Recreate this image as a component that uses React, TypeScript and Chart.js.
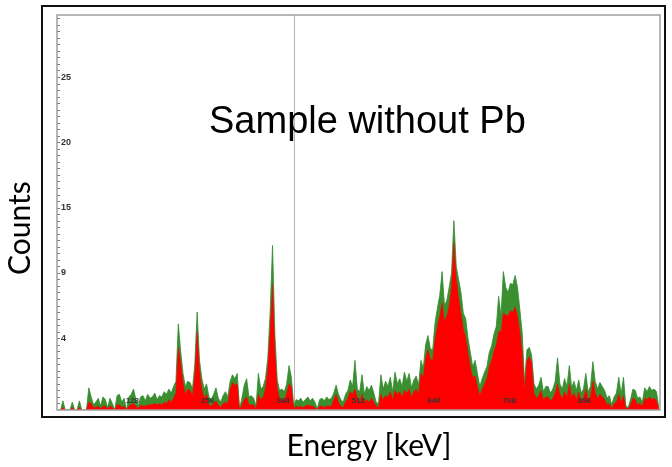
import React, { useEffect, useRef } from "react";
import { Chart, registerables } from "chart.js";

Chart.register(...registerables);

// Spectrum, binned: each bin covers BIN_WIDTH channels of 1024
const BIN_WIDTH = 4;
const CHANNEL_MAX = 1024;

// Upper (green) trace, counts per bin
const greenCounts = [
  0, 0, 0.7, 0, 0, 0, 0.6, 0, 0, 0.7, 0, 0, 0, 1.7, 1.0, 0.4,
  0.6, 0.9, 0.3, 1.0, 0.8, 0.2, 0.9, 0.5, 0, 1.1, 1.2, 0.6, 0.9, 0, 1.0, 1.2,
  1.6, 0.8, 0.3, 1.0, 1.1, 0.7, 1.2, 0.9, 1.0, 1.3, 0.8, 1.1, 1.0, 1.4, 1.2, 1.6,
  1.3, 1.8, 2.2, 6.6, 4.5, 2.8, 1.8, 2.2, 2.1, 1.6, 3.5, 7.5, 3.8, 2.4, 1.6, 2.0,
  1.0, 0.8, 1.2, 1.7, 0.9, 0.6, 1.1, 1.4, 1.0, 2.2, 2.7, 2.4, 2.8, 0.1, 0.9, 1.9,
  2.4, 1.0, 1.1, 0.9, 0.3, 2.8, 1.6, 1.8, 2.4, 4.0, 7.5, 12.6, 5.8, 2.3, 1.5, 1.6,
  1.4, 2.0, 3.4, 2.5, 0.3, 0.8, 0.7, 0.9, 0.6, 0.8, 1.0, 0.7, 0.9, 0.6, 0.1, 0.8,
  0.9, 0.7, 1.0, 0.8, 0.9, 1.3, 1.9, 1.2, 0.8, 0.6, 1.2, 1.5, 2.3, 1.8, 3.8, 1.6,
  1.4, 2.7, 1.2, 1.8, 1.5, 1.9, 1.3, 0.6, 0.5, 2.7, 1.6, 2.2, 1.8, 2.5, 1.4, 2.9,
  2.0, 2.4, 1.8, 2.9, 2.2, 2.8, 1.7, 2.3, 2.6, 1.9, 3.8, 3.2, 5.0, 5.7, 4.7, 4.6,
  6.7, 7.8, 8.8, 10.6, 8.0, 8.4, 9.4, 10.5, 14.5, 11.0, 10.0, 9.0, 7.4, 7.0, 5.5, 4.4,
  3.3, 3.8, 2.8, 1.8, 2.4, 2.9, 3.3, 4.4, 4.9, 5.8, 6.4, 8.7, 7.2, 10.6, 9.4, 9.0,
  9.7, 9.6, 10.3, 9.4, 7.7, 5.9, 2.1, 4.6, 4.8, 4.2, 2.0, 1.6, 1.9, 2.5, 1.4, 1.8,
  1.8, 1.3, 1.6, 2.2, 4.0, 2.0, 1.6, 2.4, 1.8, 3.4, 1.7, 2.2, 1.5, 2.3, 1.3, 1.6,
  2.8, 1.4, 1.8, 3.7, 2.2, 1.6, 2.1, 1.8, 1.5, 0.9, 1.1, 0.4, 1.0, 1.3, 2.5, 1.2,
  2.5, 0.3, 0.2, 0.8, 1.6, 1.5, 0.9, 1.0, 0.6, 1.7, 1.4, 1.8, 1.5, 1.6, 1.4, 0.2,
];

// Lower (red) trace, counts per bin
const redCounts = [
  0, 0, 0.2, 0, 0, 0, 0.2, 0, 0, 0.2, 0, 0, 0, 0.6, 0.5, 0.2,
  0.2, 0.3, 0.1, 0.3, 0.3, 0.1, 0.3, 0.2, 0, 0.4, 0.4, 0.2, 0.3, 0, 0.3, 0.4,
  0.5, 0.3, 0.1, 0.4, 0.3, 0.3, 0.4, 0.4, 0.4, 0.5, 0.4, 0.5, 0.4, 0.6, 0.5, 0.8,
  0.6, 0.9, 1.3, 4.8, 3.6, 2.1, 1.2, 1.6, 1.5, 1.1, 2.6, 6.0, 3.0, 1.6, 0.9, 1.2,
  0.4, 0.3, 0.5, 0.7, 0.4, 0.2, 0.5, 0.6, 0.5, 1.6, 2.1, 1.9, 2.0, 0, 0.4, 0.8,
  1.0, 0.4, 0.4, 0.4, 0.1, 1.2, 0.8, 1.0, 1.6, 3.2, 6.0, 9.6, 4.5, 1.6, 0.9, 0.8,
  0.7, 1.3, 2.0, 1.8, 0.1, 0.3, 0.2, 0.3, 0.2, 0.3, 0.4, 0.3, 0.3, 0.2, 0, 0.3,
  0.3, 0.2, 0.3, 0.3, 0.3, 0.8, 1.2, 0.6, 0.3, 0.2, 0.6, 0.9, 1.4, 1.2, 1.6, 1.0,
  0.6, 1.2, 0.6, 0.8, 0.6, 0.9, 0.6, 0.3, 0.2, 1.2, 0.8, 1.1, 1.0, 1.4, 0.8, 1.5,
  1.2, 1.4, 1.0, 1.5, 1.3, 1.6, 1.0, 1.4, 1.6, 1.2, 2.8, 2.5, 4.0, 4.6, 3.9, 3.8,
  5.4, 6.4, 7.2, 8.2, 6.8, 7.2, 8.0, 9.4, 12.8, 10.0, 8.6, 7.4, 6.2, 5.6, 4.4, 3.3,
  2.5, 2.6, 1.8, 1.1, 1.6, 2.0, 2.4, 3.3, 3.8, 4.5, 5.0, 6.0, 6.0, 7.4, 7.3, 7.2,
  7.6, 7.5, 7.9, 7.2, 6.0, 4.4, 1.4, 3.8, 4.1, 3.6, 1.3, 0.9, 1.1, 1.5, 0.8, 1.0,
  1.0, 0.7, 0.9, 1.3, 2.0, 1.2, 0.9, 1.4, 1.0, 2.0, 1.0, 1.3, 0.8, 1.4, 0.7, 0.9,
  1.6, 0.8, 1.0, 2.2, 1.3, 0.9, 1.2, 1.0, 0.8, 0.4, 0.5, 0.1, 0.5, 0.6, 1.2, 0.6,
  1.1, 0.1, 0.1, 0.4, 0.9, 0.8, 0.4, 0.5, 0.3, 0.9, 0.8, 1.0, 0.8, 0.9, 0.7, 0.1,
];

const xTickValues = [128, 256, 384, 512, 640, 768, 896];
const yTickValues = [5.5, 10.5, 15.5, 20.5, 25.5];
const yTickLabels = ["4", "9", "15", "20", "25"];
const Y_MAX = 30.25;
const Y_MINOR_STEP = 0.5;
const MARKER_CHANNEL = 402;

const toPoints = (arr: number[]) =>
  arr.map((y, i) => ({ x: i * BIN_WIDTH + BIN_WIDTH / 2, y }));

const framePlugin = {
  id: "spectrumFrame",
  beforeDatasetsDraw(chart: any) {
    const { ctx, chartArea: a, scales } = chart;
    const mx = scales.x.getPixelForValue(MARKER_CHANNEL);
    ctx.save();
    ctx.strokeStyle = "#b4b4b4";
    ctx.lineWidth = 1;
    ctx.beginPath();
    ctx.moveTo(Math.round(mx) + 0.5, a.top);
    ctx.lineTo(Math.round(mx) + 0.5, a.bottom);
    ctx.stroke();
    ctx.restore();
  },
  afterDraw(chart: any) {
    const { ctx, chartArea: a, scales } = chart;
    ctx.save();
    // minor tick marks on the inside of the left axis
    ctx.strokeStyle = "#777";
    ctx.lineWidth = 1;
    for (let v = Y_MINOR_STEP; v < Y_MAX; v += Y_MINOR_STEP) {
      const y = Math.round(scales.y.getPixelForValue(v)) + 0.5;
      ctx.beginPath();
      ctx.moveTo(a.left, y);
      ctx.lineTo(a.left + 3, y);
      ctx.stroke();
    }
    // x tick labels inside the plot, just above the baseline
    ctx.fillStyle = "#333";
    ctx.font = "bold 8px 'Liberation Sans', Arial, sans-serif";
    ctx.textAlign = "center";
    ctx.textBaseline = "middle";
    xTickValues.forEach((v) => {
      const x = scales.x.getPixelForValue(v);
      ctx.fillText(String(v), x, a.bottom - 9);
    });
    ctx.strokeStyle = "#a0a0a0";
    ctx.lineWidth = 1.5;
    ctx.strokeRect(a.left, a.top, a.right - a.left, a.bottom - a.top);
    ctx.restore();
  },
};

function SpectrumChart() {
  const ref = useRef<HTMLCanvasElement | null>(null);
  useEffect(() => {
    if (!ref.current) return;
    const chart = new Chart(ref.current, {
      type: "line",
      data: {
        datasets: [
          {
            label: "upper",
            data: toPoints(greenCounts),
            borderColor: "#2f8a2f",
            backgroundColor: "#3c8f2e",
            borderWidth: 0.8,
            pointRadius: 0,
            fill: "origin",
            tension: 0,
            order: 2,
          },
          {
            label: "lower",
            data: toPoints(redCounts),
            borderColor: "#ff0000",
            backgroundColor: "#ff0000",
            borderWidth: 0.5,
            pointRadius: 0,
            fill: "origin",
            tension: 0,
            order: 1,
          },
        ],
      },
      options: {
        animation: false,
        responsive: false,
        maintainAspectRatio: false,
        devicePixelRatio: 1,
        layout: { padding: { left: 57, top: 15, right: 12, bottom: 57 } },
        plugins: {
          legend: { display: false },
          tooltip: { enabled: false },
          title: { display: false },
        },
        scales: {
          x: {
            type: "linear",
            min: 0,
            max: CHANNEL_MAX,
            grid: { display: false, drawTicks: false },
            border: { display: false },
            afterBuildTicks: (scale: any) => {
              scale.ticks = xTickValues.map((v) => ({ value: v }));
            },
            afterFit: (scale: any) => {
              scale.height = 0;
            },
            ticks: { display: false },
          },
          y: {
            type: "linear",
            min: 0,
            max: Y_MAX,
            z: 1,
            grid: { display: false, drawTicks: false },
            border: { display: false },
            afterBuildTicks: (scale: any) => {
              scale.ticks = yTickValues.map((v) => ({ value: v }));
            },
            afterFit: (scale: any) => {
              scale.width = 0;
            },
            ticks: {
              mirror: true,
              autoSkip: false,
              padding: 4,
              color: "#333",
              font: { family: "Liberation Sans", size: 9, weight: "bold" },
              callback: (v: any) => {
                const i = yTickValues.indexOf(Number(v));
                return i >= 0 ? yTickLabels[i] : "";
              },
            },
          },
        },
      },
      plugins: [framePlugin],
    });
    return () => chart.destroy();
  }, []);
  return (
    <canvas
      ref={ref}
      width={672}
      height={467}
      style={{ position: "absolute", left: 0, top: 0, width: 672, height: 467 }}
    />
  );
}

export default function App() {
  return (
    <div
      style={{
        position: "fixed",
        left: 0,
        top: 0,
        width: 672,
        height: 467,
        background: "#fff",
        overflow: "hidden",
      }}
    >
      <SpectrumChart />
      <div
        style={{
          position: "absolute",
          left: 41,
          top: 5,
          width: 625,
          height: 413,
          boxSizing: "border-box",
          border: "2px solid #111",
          pointerEvents: "none",
        }}
      />
      <div
        style={{
          position: "absolute",
          left: 209,
          top: 101,
          fontFamily: "'Liberation Sans', Arial, sans-serif",
          fontSize: 38,
          lineHeight: "38px",
          color: "#000",
          whiteSpace: "nowrap",
        }}
      >
        Sample without Pb
      </div>
      <div
        style={{
          position: "absolute",
          left: 18 - 60,
          top: 228 - 15,
          width: 120,
          height: 30,
          lineHeight: "30px",
          textAlign: "center",
          fontFamily: "Lato, 'Open Sans', sans-serif",
          fontSize: 30,
          color: "#000",
          transform: "rotate(-90deg)",
          whiteSpace: "nowrap",
        }}
      >
        Counts
      </div>
      <div
        style={{
          position: "absolute",
          left: 249,
          top: 429,
          width: 240,
          lineHeight: "30px",
          textAlign: "center",
          fontFamily: "Lato, 'Open Sans', sans-serif",
          fontSize: 30,
          color: "#000",
          whiteSpace: "nowrap",
        }}
      >
        Energy [keV]
      </div>
    </div>
  );
}
